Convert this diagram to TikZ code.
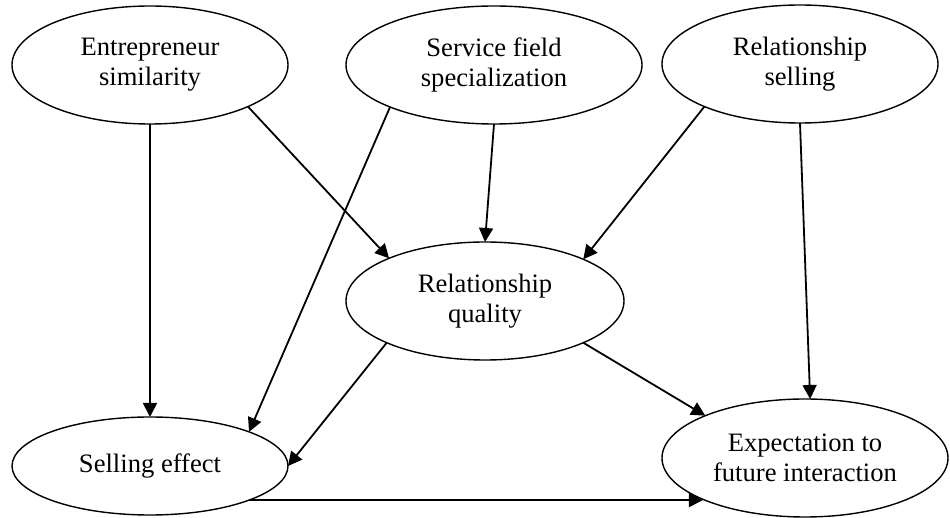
\documentclass[tikz,border=0pt]{standalone}
\usepackage{fontspec}
\setmainfont{Liberation Serif}
\usetikzlibrary{arrows.meta, shapes.geometric}

\begin{document}
\begin{tikzpicture}[x=0.5pt, y=-0.5pt,
    factor/.style={ellipse, draw, line width=0.7pt, inner sep=0pt, outer sep=0pt,
                   align=center, font=\fontsize{13.3}{15}\selectfont},
    link/.style={line width=0.9pt, -{Triangle[length=7pt, width=7pt]}}]
    \useasboundingbox (0,0) rectangle (950,518);

    \node [factor, minimum width=138pt, minimum height=59pt] (ent)  at (150,65)  {Entrepreneur\\similarity};
    \node [factor, minimum width=148pt, minimum height=59pt] (srv)  at (494,65)  {Service field\\specialization};
    \node [factor, minimum width=138pt, minimum height=59pt] (rsel) at (800,64)  {Relationship\\selling};
    \node [factor, minimum width=139pt, minimum height=59pt] (qual) at (485,301) {Relationship\\quality};
    \node [factor, minimum width=138pt, minimum height=49pt] (eff)  at (150,466) {Selling effect};
    \node [factor, minimum width=143pt, minimum height=59pt] (exp)  at (805,458) {Expectation to\\future interaction};

    \draw [link] (ent) -- (eff);
    \draw [link] (ent.-23.4) -- (qual.156.3);
    \draw [link] (srv.202.5) -- (eff.19.3);
    \draw [link] (srv.south) -- (qual.north);
    \draw [link] (rsel.204.2) -- (qual.23.7);
    \draw [link] (rsel.south) -- (exp.85.2);
    \draw [link] (qual.203.2) -- (eff.east);
    \draw [link] (qual.-23.2) -- (exp.157.1);
    \draw [link] (eff.-19.1) -- (eff.-19.1 -| exp.202.7);
\end{tikzpicture}
\end{document}
